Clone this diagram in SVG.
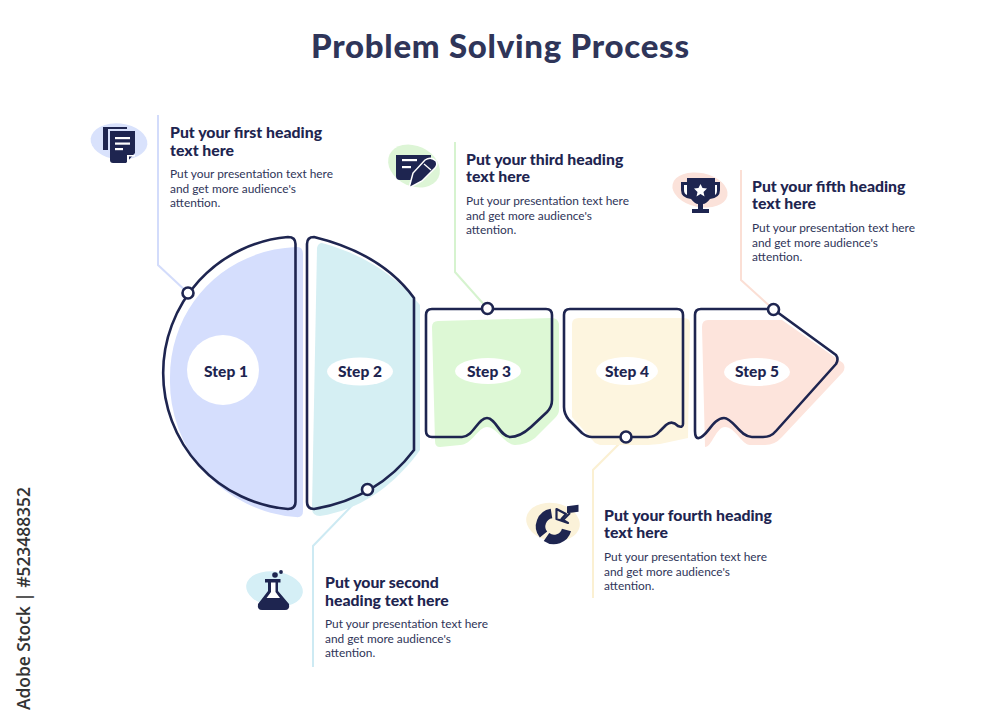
<svg xmlns="http://www.w3.org/2000/svg" width="1000" height="725" viewBox="0 0 1000 725">
<style>
.o{fill:none;stroke:#1e2550;stroke-width:2.6;stroke-linejoin:round}
.d{fill:#fff;stroke:#1e2550;stroke-width:2.6}
.l{fill:none;stroke-width:2}
.i{fill:#1e2550}
.w{fill:#fff}
text{font-family:"Lato","Liberation Sans",sans-serif;fill:#1e2550}
.t{font-size:33px;font-weight:900;fill:#2f3559}
.h{font-size:15.800px;font-weight:900}
.b{font-size:11.900px;font-weight:400;fill:#2f3559}
.s{font-size:15.500px;font-weight:900}
</style>
<rect width="1000" height="725" fill="#fff"/>
<text class="t" x="500" y="58" text-anchor="middle" textLength="378">Problem Solving Process</text>
<g id="connectors">
<path class="l" stroke="#d3dcfb" d="M158 115V265L188 293"/>
<path class="l" stroke="#cdeaf3" d="M313 667V546L367 490"/>
<path class="l" stroke="#d6f3cf" d="M455 142V272L487 308"/>
<path class="l" stroke="#fbf0d2" d="M593 598V470L626 437"/>
<path class="l" stroke="#fbdfd5" d="M741 170V280L773 309"/>
</g>
<g id="step1">
<path fill="#d5defd" d="M296 247Q303 246 303 254V511Q303 518 296 517A136 136 0 0 1 170 378C170 305 225 250 296 247Z"/>
<path class="o" d="M288 237Q295.500 237 295.500 244V502Q295.500 509 288 509A136.500 136.500 0 0 1 288 237Z"/>
<ellipse class="w" cx="223" cy="370" rx="36" ry="35"/>
<text class="s" x="226" y="377" text-anchor="middle">Step 1</text>
<circle class="d" cx="188" cy="293" r="5.500"/>
</g>
<g id="step2">
<path fill="#d5eff3" d="M322 243C365 255 395 275 420 305V450C395 485 360 510 320 516Q312 516 312 508L317 248Q318 243 322 243Z"/>
<path class="o" d="M314 237C355 247 390 265 414 298V450C390 482 355 502 314 509Q307 509 307 502V244Q307 237 314 237Z"/>
<ellipse class="w" cx="360" cy="371.500" rx="33" ry="14"/>
<text class="s" x="360" y="377" text-anchor="middle">Step 2</text>
<circle class="d" cx="367.500" cy="489.500" r="5.500"/>
</g>
<g id="step3">
<path fill="#ddf8d5" d="M438 321L552 318Q558 318 559 324V410Q559 414 555 418L535 438Q526 445 515 445C505 445 497 427 487 427C478 427 472 445 460 445L440 447Q435 447 435 441L432 327Q432 321 438 321Z"/>
<path class="o" d="M432 309H546Q552 309 552 315V400Q552 407 547 412L531 427Q520 437 510 437C500 437 496 418 487 418C478 418 473 437 462 437H432Q426 437 426 431V315Q426 309 432 309Z"/>
<ellipse class="w" cx="488" cy="371" rx="33" ry="13"/>
<text class="s" x="489" y="377" text-anchor="middle">Step 3</text>
<circle class="d" cx="487.500" cy="308.500" r="5.500"/>
</g>
<g id="step4">
<path fill="#fdf5df" d="M579 318H684Q690 318 690 324L688 438L660 444L648 445H600L595 443L572 417V324Q572 318 579 318Z"/>
<path class="o" d="M570 309H677Q683 309 683 315V424Q683 428 678 426Q672 420 666 425L660 431Q655 437 648 437H592Q587 437 582 433L569 420Q564 414 564 407V315Q564 309 570 309Z"/>
<ellipse class="w" cx="627" cy="371" rx="31" ry="14"/>
<text class="s" x="627" y="377" text-anchor="middle">Step 4</text>
<circle class="d" cx="626" cy="437" r="5.500"/>
</g>
<g id="step5">
<path fill="#fde4dc" d="M708 320H782L843 363Q846 367 843 372L782 437Q775 445 765 445H750C742 445 735 427 725 427C716 427 712 447 705 447L702 327Q702 320 708 320Z"/>
<path class="o" d="M701 309H773L836 355Q839 359 836 364L776 431Q771 437 763 437H752C740 437 733 418 724 418C713 418 707 437 699 438Q695 439 695 431V315Q695 309 701 309Z"/>
<ellipse class="w" cx="757" cy="372" rx="33" ry="14"/>
<text class="s" x="757" y="377" text-anchor="middle">Step 5</text>
<circle class="d" cx="773.500" cy="309.500" r="5.500"/>
</g>
<g id="info1">
<ellipse cx="119" cy="141.500" rx="28.500" ry="18" fill="#d9e2fc" transform="rotate(6 119 141.500)"/>
<path class="i" d="M103 127H127V129H108V150H103Z"/>
<path class="i" d="M110 131H135V153L126 163H113Q110 163 110 160Z"/>
<rect class="w" x="115" y="137" width="15" height="2.200"/><rect class="w" x="115" y="142.500" width="15" height="2.200"/><rect class="w" x="115" y="148" width="8" height="2.200"/>
<path class="w" d="M127 162V155H135V156.500H129V162Z"/>
<text class="h"><tspan x="170" y="138">Put your first heading</tspan><tspan x="170" y="155.500">text here</tspan></text>
<text class="b"><tspan x="170" y="178">Put your presentation text here</tspan><tspan x="170" y="193">and get more audience's</tspan><tspan x="170" y="207">attention.</tspan></text>
</g>
<g id="info2">
<ellipse cx="274.500" cy="589" rx="28.500" ry="17.500" fill="#d5eff6" transform="rotate(8 274.500 589)"/>
<circle class="i" cx="275" cy="575" r="2.800"/><circle class="i" cx="281" cy="572" r="1.900"/>
<rect class="i" x="265" y="579" width="15.500" height="3.500"/>
<path class="i" d="M268 582H278V591L289 604Q290 610 285 610H262Q257 610 258 604L268 591Z"/>
<path class="w" d="M271 582.500H275.500V592L280 598H266.500L271 592Z"/>
<text class="h"><tspan x="325" y="588">Put your second</tspan><tspan x="325" y="605.500">heading text here</tspan></text>
<text class="b"><tspan x="325" y="628">Put your presentation text here</tspan><tspan x="325" y="643">and get more audience's</tspan><tspan x="325" y="657">attention.</tspan></text>
</g>
<g id="info3">
<ellipse cx="414" cy="166" rx="27" ry="20" fill="#ddf5d6" transform="rotate(25 414 166)"/>
<path class="i" d="M396 155H431V162L414 180H400Q396 180 396 176Z"/>
<rect class="w" x="402" y="159" width="15" height="2.200"/><rect class="w" x="402" y="166" width="9" height="2.200"/>
<path class="i" stroke="#fff" stroke-width="1.500" d="M409 188L413 173L425 160Q431 156 436 161Q438 165 435 168L422 181Z"/>
<path fill="none" stroke="#fff" stroke-width="1.300" d="M424 164L431 170"/>
<text class="h"><tspan x="466" y="165">Put your third heading</tspan><tspan x="466" y="182">text here</tspan></text>
<text class="b"><tspan x="466" y="205">Put your presentation text here</tspan><tspan x="466" y="220">and get more audience's</tspan><tspan x="466" y="234">attention.</tspan></text>
</g>
<g id="info4">
<ellipse cx="553" cy="522" rx="27" ry="19" fill="#fbf2d9" transform="rotate(10 553 522)"/>
<path fill="none" stroke="#1e2550" stroke-width="9.500" d="M551.500 513.500A13 13 0 0 0 543.500 534.500"/>
<path fill="none" stroke="#1e2550" stroke-width="9.500" d="M546.500 537A13 13 0 0 0 566.500 530"/>
<path fill="none" stroke="#1e2550" stroke-width="2.200" stroke-linejoin="round" d="M556.500 509L566 514L561.500 519L568 523L556.500 519Z"/>
<rect class="i" x="567" y="507" width="11.500" height="7" transform="skewY(-8) translate(0 79)"/>
<path fill="none" stroke="#1e2550" stroke-width="2.200" d="M570 513L562 521"/>
<text class="h"><tspan x="604" y="520.500">Put your fourth heading</tspan><tspan x="604" y="538">text here</tspan></text>
<text class="b"><tspan x="604" y="561">Put your presentation text here</tspan><tspan x="604" y="575.500">and get more audience's</tspan><tspan x="604" y="590">attention.</tspan></text>
</g>
<g id="info5">
<ellipse cx="700" cy="190" rx="28" ry="17" fill="#fbe2da" transform="rotate(12 700 190)"/>
<path class="i" d="M687 178H715V182H720V190Q720 198 710 199Q706 204 703 204V209H709V213H692V209H698V204Q695 204 691 199Q681 198 681 190V182H687Z"/>
<path class="w" d="M684 185H687V195Q684 194 684 190ZM717 185H715V195Q717 194 717 190ZM700.500 184L702.500 188L707 188.500L703.500 192L704.500 196.500L700.500 194L696.500 196.500L697.500 192L694 188.500L698.500 188Z"/>
<text class="h"><tspan x="752" y="191.500">Put your fifth heading</tspan><tspan x="752" y="209">text here</tspan></text>
<text class="b"><tspan x="752" y="232">Put your presentation text here</tspan><tspan x="752" y="247">and get more audience's</tspan><tspan x="752" y="261">attention.</tspan></text>
</g>
<text transform="translate(30 710) rotate(-90)" font-size="17.500" font-weight="600" style="font-family:'Open Sans','Liberation Sans',sans-serif;fill:#333" textLength="223">Adobe Stock | #523488352</text>
</svg>
